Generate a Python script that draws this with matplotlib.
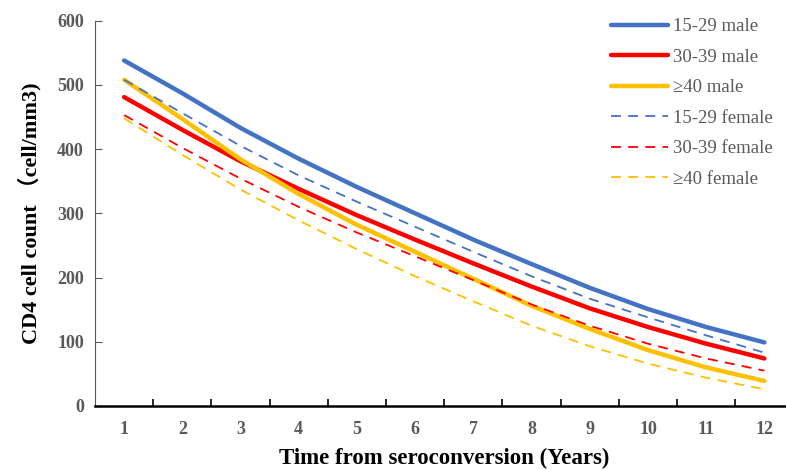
import numpy as np
import matplotlib.pyplot as plt

years = list(range(1, 13))
male_15_29 = [538, 487, 433, 385, 341, 300, 259, 221, 184, 151, 123, 99]
male_30_39 = [481, 430, 381, 338, 297, 259, 222, 186, 152, 123, 97, 74]
male_40 = [508, 447, 384, 330, 282, 240, 198, 156, 120, 87, 60, 39]
female_15_29 = [508, 456, 405, 359, 318, 279, 240, 202, 167, 138, 110, 83]
female_30_39 = [453, 402, 354, 310, 270, 233, 196, 158, 125, 97, 74, 55]
female_40 = [448, 391, 337, 289, 244, 202, 163, 125, 93, 66, 44, 26]

blue, red, gold = "#4472C4", "#FF0000", "#FFC000"
grey = "#595959"

plt.rcParams["font.family"] = ["Liberation Serif", "Noto Sans CJK SC", "DejaVu Sans"]

fig = plt.figure(figsize=(7.86, 4.70), dpi=100)
ax = fig.add_axes([0.1209, 0.1362, 0.8886, 0.8198])

solid = dict(lw=3.2, solid_capstyle="round")
dash = dict(lw=1.3, dashes=(5.5, 4))
ax.plot(years, male_15_29, color=blue, label="15-29 male", **solid)
ax.plot(years, male_30_39, color=red, label="30-39 male", **solid)
ax.plot(years, male_40, color=gold, label="≥40 male", **solid)
ax.plot(years, female_15_29, color=blue, label="15-29 female", **dash)
ax.plot(years, female_30_39, color=red, label="30-39 female", **dash)
ax.plot(years, female_40, color=gold, label="≥40 female", **dash)

ax.set_xlim(0.5, 12.5)
ax.set_ylim(0, 600)
ax.set_yticks(range(0, 601, 100))
ax.set_xticks(years)
ax.set_xticks(np.arange(1.5, 12.5, 1), minor=True)
ax.tick_params(axis="x", which="major", length=0, pad=11)
ax.tick_params(axis="x", which="minor", direction="in", length=5, width=1.2, color="black")
ax.tick_params(axis="y", direction="in", length=5, width=0.8, color=grey, pad=8)
for lab in ax.get_xticklabels() + ax.get_yticklabels():
    lab.set_fontweight("bold")
    lab.set_color(grey)
    lab.set_fontsize(13)

for s in ["top", "right"]:
    ax.spines[s].set_visible(False)
ax.spines["left"].set_color(grey)
ax.spines["left"].set_linewidth(0.8)
ax.spines["bottom"].set_linewidth(1.8)

ax.set_xlabel("Time from seroconversion (Years)", fontsize=16.5, fontweight="bold", labelpad=7)
ax.set_ylabel("CD4 cell count （cell/mm3)", fontsize=16, fontweight="bold", labelpad=11)

leg = ax.legend(loc="upper right", bbox_to_anchor=(0.995, 1.05), frameon=False,
                fontsize=13.5, handlelength=3.0, handletextpad=0.3, labelspacing=0.71,
                labelcolor=grey)

plt.savefig("out.png", dpi=100)
